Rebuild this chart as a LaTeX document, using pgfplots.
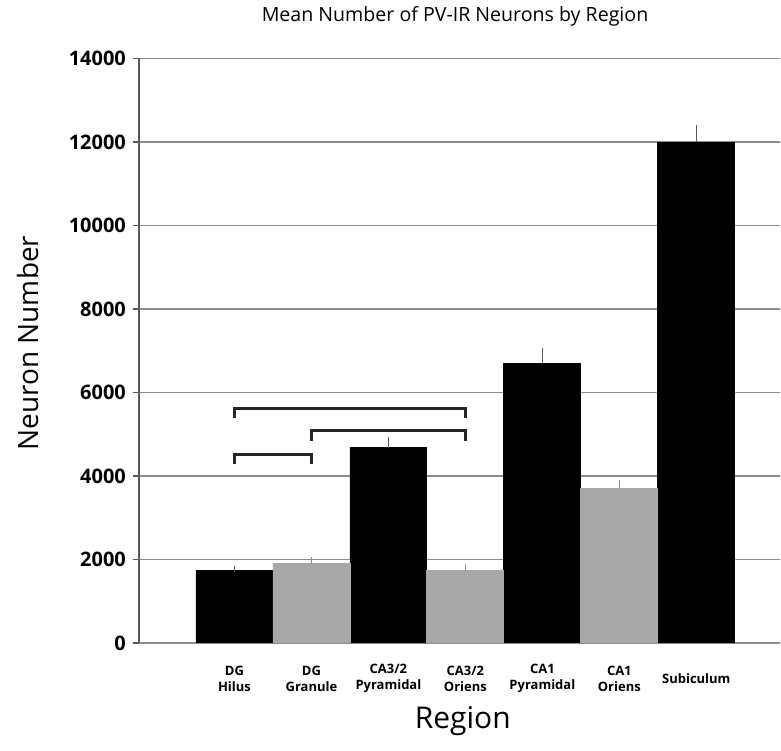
\documentclass[border=0pt]{standalone}
\usepackage{pgfplots}
\pgfplotsset{compat=1.18}
\usepackage{fontspec}
\setmainfont{Open Sans}
\definecolor{bargray}{RGB}{168,168,168}
\definecolor{gridgray}{RGB}{140,140,140}
\definecolor{axisgray}{RGB}{90,90,90}
\begin{document}
\begin{tikzpicture}
\begin{axis}[
  scale only axis,
  width=321pt, height=292.5pt,
  xmin=-1.242, xmax=7.09,
  ymin=0, ymax=14000,
  ytick={0,2000,4000,6000,8000,10000,12000,14000},
  scaled y ticks=false,
  xtick={0,1,2,3,4,5,6},
  xticklabels={{DG\\Hilus},{DG\\Granule},{CA3/2\\Pyramidal},{CA3/2\\Oriens},{CA1\\Pyramidal},{CA1\\Oriens},{Subiculum}},
  xticklabel style={align=center, anchor=center, yshift=-15pt, font=\fontsize{6.5}{8}\selectfont\bfseries},
  yticklabel style={font=\fontsize{10}{11}\selectfont\bfseries},
  /pgf/number format/assume math mode=true,
  /pgf/number format/1000 sep={},
  axis y line*=left,
  axis x line*=bottom,
  x axis line style={draw=gridgray, line width=0.8pt},
  y axis line style={draw=axisgray, line width=0.9pt},
  ymajorgrids,
  grid style={draw=gridgray, line width=0.8pt},
  major x tick style={draw=none},
  major y tick style={draw=axisgray, line width=0.8pt},
  tick align=outside,
  major tick length=3pt,
  title={Mean Number of PV-IR Neurons by Region},
  title style={at={(0.493,1)}, anchor=center, yshift=15pt, font=\fontsize{9.8}{11}\selectfont},
  ylabel={Neuron Number},
  every axis y label/.style={at={([xshift=-55.5pt]rel axis cs:0,0.513)}, anchor=center, rotate=90, font=\fontsize{14}{16}\selectfont},
  xlabel={Region},
  every axis x label/.style={at={([yshift=-39pt]rel axis cs:0.505,0)}, anchor=center, font=\fontsize{15}{17}\selectfont},
  ybar, bar width=1, bar shift=0pt,
  clip=false,
]
\addplot[fill=black, draw=black,
  error bars/.cd, y dir=plus, y explicit,
  error bar style={draw=axisgray, line width=0.6pt},
  error mark options={draw=axisgray, mark size=1.5pt, line width=0.6pt}]
  coordinates {(0,1736) +- (0,40) (2,4676) +- (0,185) (4,6700) +- (0,295) (6,11990) +- (0,345)};
\addplot[fill=bargray, draw=bargray,
  error bars/.cd, y dir=plus, y explicit,
  error bar style={draw=gridgray, line width=0.6pt},
  error mark options={draw=gridgray, mark size=1.5pt, line width=0.6pt}]
  coordinates {(1,1895) +- (0,80) (3,1743) +- (0,80) (5,3703) +- (0,120)};
% significance brackets
\addplot[sharp plot, draw=black!85, line width=1.5pt, mark=none] coordinates {(0,5396) (0,5612) (3,5612) (3,5396)};
\addplot[sharp plot, draw=black!85, line width=1.5pt, mark=none] coordinates {(1,4837) (1,5077) (3,5077) (3,4837)};
\addplot[sharp plot, draw=black!85, line width=1.5pt, mark=none] coordinates {(0,4278) (0,4501) (1,4501) (1,4278)};
\end{axis}
\useasboundingbox ([xshift=-69.5pt,yshift=-54pt]current axis.south west) rectangle ([yshift=26pt]current axis.north east);
\end{tikzpicture}
\end{document}
